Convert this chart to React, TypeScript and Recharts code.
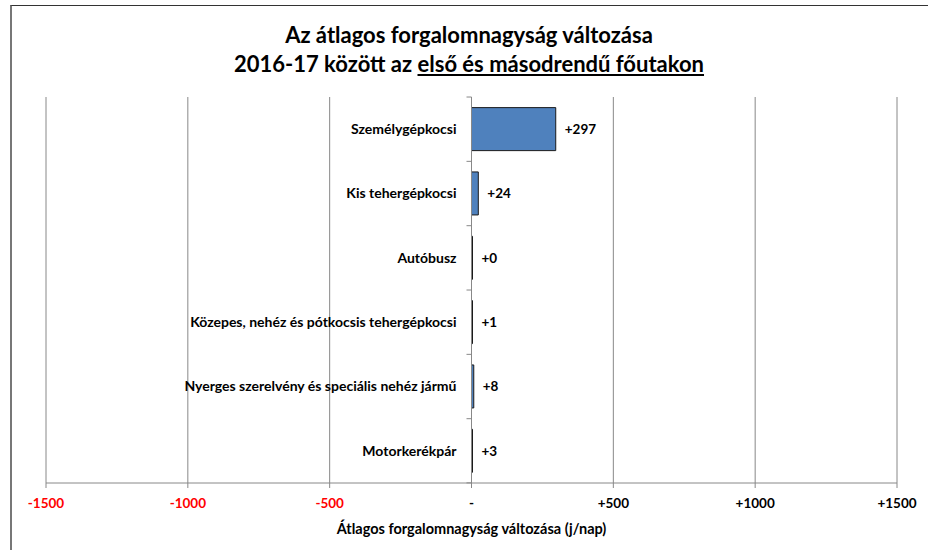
import React from 'react';
import { BarChart, Bar, XAxis, YAxis, CartesianGrid, ReferenceLine, LabelList } from 'recharts';

const categories = [
  'Személygépkocsi',
  'Kis tehergépkocsi',
  'Autóbusz',
  'Közepes, nehéz és pótkocsis tehergépkocsi',
  'Nyerges szerelvény és speciális nehéz jármű',
  'Motorkerékpár',
];
const changes = [297, 24, 0, 1, 8, 3];
const xTicks = [-1500, -1000, -500, 0, 500, 1000, 1500];

const data = categories.map((name, i) => ({ name, value: changes[i] }));

const FONT = 'Lato, "Open Sans", sans-serif';
const GAP = 0.165;
const LAST = categories[categories.length - 1];

const fmt = (v: number) => (v === 0 ? '-' : v > 0 ? `+${v}` : `${v}`);

const XTick = (props: any) => {
  const { x, y, payload } = props;
  const v = payload.value;
  return (
    <text x={x} y={y} dy="0.71em" textAnchor="middle" fontFamily={FONT} fontSize={13.5} fontWeight={700} fill={v < 0 ? '#ff0000' : '#000'}>
      {fmt(v)}
    </text>
  );
};

// category name left of the zero line + small ticks on the zero axis
const NameLabel = (props: any) => {
  const { x, y, height, value } = props;
  const band = height / (1 - 2 * GAP);
  const top = y - band * GAP;
  const cy = y + height / 2;
  return (
    <g>
      <line x1={x - 5} x2={x} y1={top} y2={top} stroke="#888" />
      {value === LAST && <line x1={x - 5} x2={x} y1={top + band} y2={top + band} stroke="#888" />}
      <text x={x - 15} y={cy} dy="0.35em" textAnchor="end" fontFamily={FONT} fontSize={14} fontWeight={700} fill="#000">
        {value}
      </text>
    </g>
  );
};

const ValueLabel = (props: any) => {
  const { x, y, width, height, value } = props;
  return (
    <text x={x + Math.max(width, 0) + 9} y={y + height / 2} dy="0.35em" textAnchor="start" fontFamily={FONT} fontSize={13.5} fontWeight={700} fill="#000">
      {`+${value}`}
    </text>
  );
};

export default function App() {
  return (
    <div style={{ position: 'absolute', left: 0, top: 0, width: 928, height: 550, background: '#fff', overflow: 'hidden' }}>
      <div style={{ position: 'absolute', left: 10, top: 5, width: 940, height: 570, borderTop: '1.5px solid #333', borderLeft: '2px solid #777' }} />
      <div
        style={{
          position: 'absolute',
          left: 0,
          top: 20,
          width: 938,
          textAlign: 'center',
          fontFamily: FONT,
          fontWeight: 700,
          fontSize: 22,
          lineHeight: '29px',
          color: '#000',
        }}
      >
        <div>Az átlagos forgalomnagyság változása</div>
        <div>
          2016-17 között az <span style={{ textDecoration: 'underline' }}>első és másodrendű főutakon</span>
        </div>
      </div>
      <div style={{ position: 'absolute', left: 0, top: 0 }}>
        <BarChart
          width={928}
          height={550}
          data={data}
          layout="vertical"
          margin={{ top: 97, right: 31, bottom: 37, left: 46 }}
          barCategoryGap={`${GAP * 100}%`}
        >
          <CartesianGrid horizontal={false} vertical stroke="#888" />
          <XAxis
            type="number"
            domain={[-1500, 1500]}
            ticks={xTicks}
            interval={0}
            height={30}
            stroke="#888"
            tickSize={5}
            tickMargin={10}
            tick={<XTick />}
          />
          <YAxis type="category" dataKey="name" hide />
          <ReferenceLine x={0} stroke="#888" />
          <Bar dataKey="value" fill="#4F81BD" stroke="#1a1a1a" strokeWidth={1} minPointSize={1} isAnimationActive={false}>
            <LabelList dataKey="name" content={<NameLabel />} />
            <LabelList dataKey="value" content={<ValueLabel />} />
          </Bar>
        </BarChart>
      </div>
      <div
        style={{
          position: 'absolute',
          left: 0,
          top: 520,
          width: 943,
          textAlign: 'center',
          fontFamily: FONT,
          fontWeight: 700,
          fontSize: 14.5,
          lineHeight: '18px',
          color: '#000',
        }}
      >
        Átlagos forgalomnagyság változása (j/nap)
      </div>
    </div>
  );
}
